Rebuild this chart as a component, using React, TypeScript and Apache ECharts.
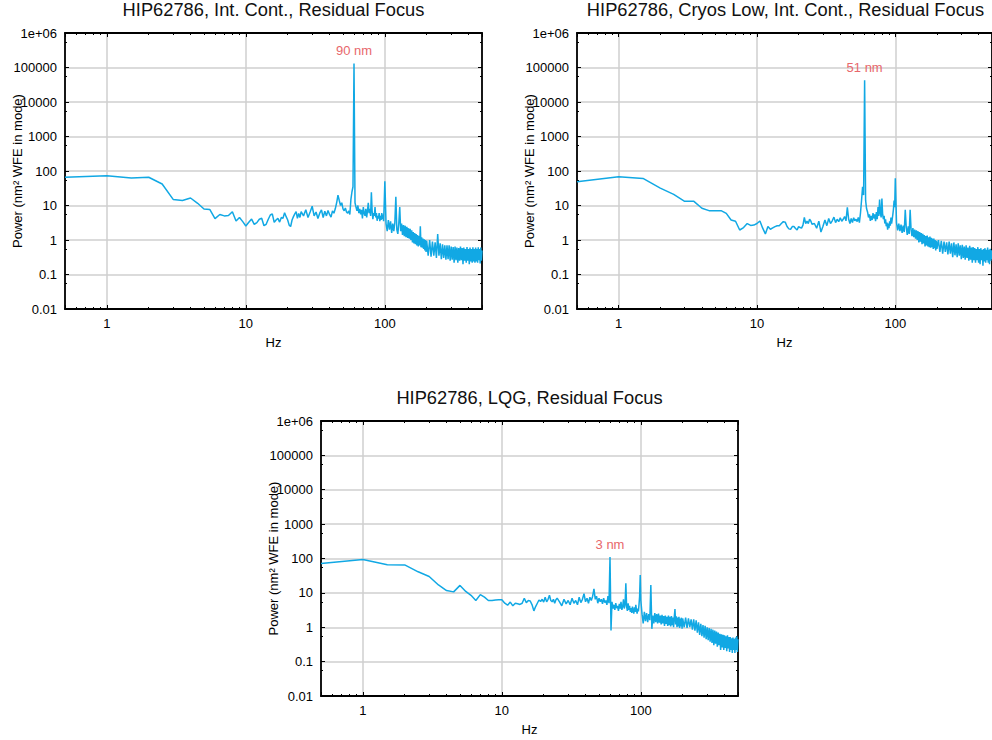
import React, { useEffect, useRef } from "react";
import * as echarts from "echarts";

// Shared frequency grid (Hz)
const FREQS = [
  0.5, 1, 1.5, 2, 2.5, 3, 3.5, 4, 4.5, 5, 5.5, 6, 6.5, 7, 7.5, 8, 8.5, 9, 9.5, 10,
  10.5, 11, 11.5, 12, 12.5, 13, 13.5, 14, 14.5, 15, 15.5, 16, 16.5, 17, 17.5, 18, 18.5, 19, 19.5, 20,
  20.5, 21, 21.5, 22, 22.5, 23, 23.5, 24, 24.5, 25,
  26, 27, 28, 29, 30, 31, 32, 33, 34, 35, 36, 37, 38, 39, 40, 41, 42, 43, 44, 45,
  46, 47, 48, 49, 50, 51, 52, 53, 54, 55, 56, 57, 58, 59, 60, 61, 62, 63, 64, 65,
  66, 67, 68, 69, 70, 71, 72, 73, 74, 75, 76, 77, 78, 79, 80, 81, 82, 83, 84, 85,
  86, 87, 88, 89, 90, 91, 92, 93, 94, 95, 96, 97, 98, 99, 100,
  102, 104, 106, 108, 110, 112, 114, 116, 118, 120, 122, 124, 126, 128, 130, 132, 134, 136, 138, 140,
  142, 144, 146, 148, 150, 152, 154, 156, 158, 160, 162, 164, 166, 168, 170, 172, 174, 176, 178, 180,
  182, 184, 186, 188, 190, 192, 194, 196, 198, 200,
  205, 210, 215, 220, 225, 230, 235, 240, 245, 250, 255, 260, 265, 270, 275, 280, 285, 290, 295, 300,
  305, 310, 315, 320, 325, 330, 335, 340, 345, 350, 355, 360, 365, 370, 375, 380, 385, 390, 395, 400,
  405, 410, 415, 420, 425, 430, 435, 440, 445, 450, 455, 460, 465, 470, 475, 480, 485, 490, 495, 500,
];

// HIP62786, Int. Cont., Residual Focus
const POWER_INT_CONT = [
  66, 73, 63, 66, 42, 15, 14, 16.5, 11.6, 7.9, 7.7, 4.15, 5.5, 5.0, 5.1, 6.6, 3.55, 4.5, 3.4, 2.55,
  3.25, 4.05, 2.85, 3.2, 4.0, 4.25, 2.6, 2.85, 4.0, 5.3, 5.7, 3.25, 3.8, 4.25, 3.3, 4.5, 4.25, 6.2, 4.75, 3.8,
  2.7, 2.45, 3.8, 4.75, 5.7, 6.6, 4.25, 5.9, 4.5, 6.6,
  5.0, 7.5, 4.5, 6.5, 9.5, 5.0, 6.5, 4.2, 6.0, 7.5, 4.5, 6.8, 5.0, 7.2, 5.5, 4.6, 7.0, 6.0, 8.0, 12,
  20, 14, 10, 12, 8.0, 7.0, 8.5, 6.5, 6.0, 7.0, 5.5, 15, 25, 35, 130000, 12, 9.0, 7.0, 10, 6.0,
  8.0, 5.5, 7.5, 4.2, 9.0, 6.0, 5.0, 8.0, 4.5, 7.0, 12, 6.0, 8.0, 5.0, 24, 7.0, 4.0, 6.0, 5.0, 9.0,
  4.5, 6.0, 3.6, 5.0, 4.2, 6.0, 3.5, 5.0, 3.8, 6.0, 4.0, 5.5, 3.5, 12, 50,
  3.0, 1.8, 3.8, 2.0, 3.5, 1.6, 3.0, 1.8, 3.2, 18, 2.0, 1.5, 3.0, 9.0, 1.8, 3.0, 1.4, 2.7, 1.3, 2.6,
  1.2, 2.4, 1.15, 2.2, 1.1, 2.1, 1.0, 1.9, 0.85, 1.7, 0.8, 1.6, 0.75, 1.5, 0.7, 1.4, 0.65, 1.3, 0.7, 2.5,
  0.62, 1.2, 0.6, 1.1, 0.55, 1.05, 0.5, 1.0, 0.45, 0.95,
  0.35, 1.0, 0.33, 0.9, 0.35, 0.85, 0.3, 1.5, 0.35, 0.8, 0.28, 0.75, 0.3, 0.7, 0.27, 0.7, 0.28, 0.7, 0.25, 0.65,
  0.27, 0.62, 0.22, 0.65, 0.26, 0.6, 0.22, 0.58, 0.25, 0.65, 0.26, 0.58, 0.2, 0.6, 0.25, 0.55, 0.22, 0.62, 0.25, 0.55,
  0.2, 0.6, 0.24, 0.55, 0.22, 0.62, 0.24, 0.55, 0.22, 0.6, 0.24, 0.55, 0.22, 0.62, 0.26, 0.55, 0.21, 0.6, 0.25, 0.5,
];

// HIP62786, Cryos Low, Int. Cont., Residual Focus
const POWER_CRYOS_LOW = [
  49, 68, 61, 32, 21, 13.2, 13.2, 8.3, 7.1, 7.1, 7.1, 5.9, 3.8, 3.5, 1.95, 2.3, 3.0, 2.65, 2.7, 3.0,
  3.55, 2.2, 1.5, 2.45, 2.05, 2.25, 2.45, 2.6, 2.6, 3.0, 3.4, 3.3, 2.45, 2.1, 2.05, 2.45, 2.45, 2.15, 1.95, 2.45,
  2.3, 2.2, 2.7, 4.5, 3.0, 3.55, 3.0, 4.0, 3.55, 2.85,
  3.0, 2.2, 3.5, 1.7, 2.5, 3.8, 2.6, 4.2, 3.0, 3.6, 4.6, 3.2, 4.0, 3.4, 4.4, 3.5, 4.0, 4.8, 3.6, 8.8,
  4.0, 3.0, 4.2, 3.2, 4.4, 3.6, 4.0, 3.4, 4.5, 3.2, 6.0, 14, 35, 20, 43000, 14, 8.0, 6.5, 4.5, 5.5,
  3.6, 5.0, 3.8, 6.0, 4.2, 5.5, 3.5, 6.5, 4.0, 9.0, 5.0, 15, 6.0, 4.5, 16, 5.5, 4.0, 5.0, 3.0, 4.0,
  2.5, 3.2, 2.0, 3.0, 2.2, 3.5, 2.6, 4.5, 3.0, 4.0, 5.5, 8.0, 14, 9.0, 62,
  3.2, 1.9, 3.0, 1.8, 2.8, 1.6, 2.6, 1.7, 7.5, 2.3, 1.4, 2.5, 1.5, 7.5, 2.0, 1.3, 2.2, 1.2, 2.0, 1.1,
  1.9, 1.0, 1.8, 0.85, 1.7, 0.9, 1.6, 0.75, 1.5, 0.8, 1.4, 0.65, 1.3, 0.7, 1.35, 0.65, 1.2, 0.62, 1.25, 0.6,
  1.15, 0.62, 1.1, 0.55, 1.1, 0.58, 1.0, 0.5, 0.95, 0.55,
  1.0, 0.45, 0.95, 0.4, 0.9, 0.45, 0.85, 0.38, 0.9, 0.4, 0.8, 0.32, 0.85, 0.36, 0.75, 0.32, 0.8, 0.35, 0.7, 0.28,
  0.72, 0.3, 0.65, 0.27, 0.7, 0.3, 0.6, 0.25, 0.68, 0.27, 0.6, 0.22, 0.62, 0.26, 0.58, 0.22, 0.55, 0.26, 0.62, 0.22,
  0.55, 0.2, 0.58, 0.26, 0.52, 0.18, 0.55, 0.24, 0.58, 0.22, 0.52, 0.26, 0.6, 0.22, 0.52, 0.2, 0.56, 0.25, 0.5, 0.28,
];

// HIP62786, LQG, Residual Focus
const POWER_LQG = [
  71, 93, 66, 65, 41, 30, 17, 11.7, 10.7, 16.5, 11, 8.5, 6.0, 8.9, 7.5, 6.0, 6.0, 6.2, 6.3, 6.3,
  5.0, 4.4, 5.4, 4.2, 5.0, 4.8, 4.6, 5.0, 7.0, 5.2, 6.0, 5.8, 4.5, 3.0, 4.0, 5.0, 6.2, 5.6, 6.5, 5.4,
  7.5, 5.5, 6.5, 8.5, 6.0, 5.5, 6.5, 5.0, 6.3, 7.0,
  5.5, 4.2, 6.5, 4.8, 6.0, 4.5, 7.0, 5.0, 6.0, 4.5, 7.5, 5.2, 6.5, 9.5, 5.5, 7.0, 5.0, 7.5, 6.0, 8.0,
  13, 6.5, 8.0, 5.0, 7.0, 5.5, 6.5, 4.8, 7.0, 5.2, 6.0, 4.5, 8.0, 5.0, 110, 0.8, 5.5, 3.5, 4.5, 3.2,
  5.0, 3.6, 4.2, 3.0, 4.8, 3.5, 5.5, 3.2, 4.0, 6.5, 3.5, 4.5, 19, 4.0, 3.0, 5.0, 3.2, 4.2, 2.8, 3.6,
  2.6, 4.0, 3.0, 2.5, 3.8, 2.8, 4.5, 3.2, 2.5, 3.5, 2.9, 4.5, 8.0, 33, 6.0,
  2.4, 1.3, 2.8, 1.5, 2.6, 1.4, 2.4, 1.6, 17, 0.9, 2.2, 1.3, 2.6, 1.4, 2.4, 1.3, 2.5, 1.35, 2.2, 1.2,
  2.3, 1.3, 2.1, 1.1, 2.2, 1.25, 2.0, 1.1, 2.2, 1.15, 2.0, 1.05, 2.1, 1.15, 1.9, 1.0, 2.0, 3.4, 1.2, 2.1,
  1.0, 1.9, 1.05, 2.0, 0.95, 1.8, 1.05, 1.9, 0.9, 1.8,
  1.0, 1.9, 0.95, 1.8, 1.0, 1.7, 0.85, 1.7, 0.8, 1.6, 0.7, 1.4, 0.6, 1.25, 0.55, 1.15, 0.5, 1.1, 0.45, 1.0,
  0.42, 0.95, 0.38, 0.9, 0.35, 0.85, 0.3, 0.8, 0.33, 0.75, 0.27, 0.7, 0.3, 0.65, 0.22, 0.62, 0.26, 0.6, 0.22, 0.58,
  0.25, 0.55, 0.2, 0.58, 0.24, 0.52, 0.19, 0.52, 0.22, 0.48, 0.18, 0.5, 0.22, 0.46, 0.18, 0.5, 0.22, 0.55, 0.19, 0.45,
];

const TITLES = [
  "HIP62786, Int. Cont., Residual Focus",
  "HIP62786, Cryos Low, Int. Cont., Residual Focus",
  "HIP62786, LQG, Residual Focus",
];
const PEAK_LABELS = ["90 nm", "51 nm", "3 nm"];
const PEAK_FREQ = 60;
const X_NAME = "Hz";
const Y_NAME = "Power (nm\u00B2 WFE in mode)";
const Y_TICK_LABELS = ["0.01", "0.1", "1", "10", "100", "1000", "10000", "100000", "1e+06"];
const X_TICK_LABELS = ["1", "10", "100"];

const FONT = "'Liberation Sans', Arial, Helvetica, sans-serif";
const LINE_COLOR = "#11a8e4";
const PEAK_COLOR = "#e8676b";

const PANELS = [
  { left: 65, top: 33, width: 417, height: 276 },
  { left: 577, top: 33, width: 417, height: 276 },
  { left: 321, top: 421, width: 417, height: 275 },
];

function isDecade(v: number) {
  const l = Math.log10(v);
  return Math.abs(l - Math.round(l)) < 1e-6;
}

export default function App() {
  const ref = useRef<HTMLDivElement>(null);

  useEffect(() => {
    if (!ref.current) return;
    const chart = echarts.init(ref.current, undefined, { renderer: "svg" });
    const seriesData = [POWER_INT_CONT, POWER_CRYOS_LOW, POWER_LQG];

    const xLabel = (v: number) => {
      if (!isDecade(v)) return "";
      const idx = Math.round(Math.log10(v));
      return X_TICK_LABELS[idx] ?? "";
    };
    const yLabel = (v: number) => {
      if (!isDecade(v)) return "";
      const idx = Math.round(Math.log10(v)) + 2;
      return Y_TICK_LABELS[idx] ?? "";
    };

    const grid: any[] = [];
    const xAxis: any[] = [];
    const yAxis: any[] = [];
    const series: any[] = [];
    const graphic: any[] = [];

    PANELS.forEach((p, k) => {
      grid.push({ left: p.left, top: p.top, width: p.width, height: p.height, containLabel: false });
      const lineStyle = { color: "#000", width: 1.8 };
      const tickStyle = { color: "#000", width: 1 };
      xAxis.push({
        type: "log",
        logBase: 10,
        gridIndex: k,
        min: 0.5,
        max: 500,
        position: "bottom",
        axisLine: { show: true, onZero: false, lineStyle },
        axisTick: { show: true, inside: true, length: 4, lineStyle: tickStyle },
        minorTick: { show: true, splitNumber: 9, length: 2, lineStyle: tickStyle },
        axisLabel: {
          formatter: xLabel,
          fontSize: 13,
          color: "#000",
          fontFamily: FONT,
          margin: 8,
          showMinLabel: false,
          showMaxLabel: false,
        },
        splitLine: { show: true, lineStyle: { color: "#cfcfcf", width: 1.5 } },
        minorSplitLine: { show: false },
        name: X_NAME,
        nameLocation: "middle",
        nameGap: 27,
        nameMoveOverlap: false,
        nameTextStyle: { fontSize: 13, color: "#000", fontFamily: FONT },
      });
      xAxis.push({
        type: "log",
        logBase: 10,
        gridIndex: k,
        min: 0.5,
        max: 500,
        position: "top",
        axisLine: { show: true, onZero: false, lineStyle },
        axisTick: { show: true, inside: true, length: 4, lineStyle: tickStyle },
        minorTick: { show: true, splitNumber: 9, length: 2, lineStyle: tickStyle },
        axisLabel: { show: false },
        splitLine: { show: false },
      });
      yAxis.push({
        type: "log",
        logBase: 10,
        gridIndex: k,
        min: 0.01,
        max: 1e6,
        position: "left",
        axisLine: { show: true, onZero: false, lineStyle },
        axisTick: { show: true, inside: true, length: 4, lineStyle: tickStyle },
        minorTick: { show: true, splitNumber: 2, length: 2, lineStyle: tickStyle },
        axisLabel: {
          formatter: yLabel,
          fontSize: 13,
          color: "#000",
          fontFamily: FONT,
          margin: 8,
        },
        splitLine: { show: true, lineStyle: { color: "#cfcfcf", width: 1.5 } },
        name: Y_NAME,
        nameLocation: "middle",
        nameGap: 41,
        nameRotate: 90,
        nameMoveOverlap: false,
        nameTextStyle: { fontSize: 13, color: "#000", fontFamily: FONT },
      });
      yAxis.push({
        type: "log",
        logBase: 10,
        gridIndex: k,
        min: 0.01,
        max: 1e6,
        position: "right",
        axisLine: { show: true, onZero: false, lineStyle },
        axisTick: { show: true, inside: true, length: 4, lineStyle: tickStyle },
        minorTick: { show: true, splitNumber: 2, length: 2, lineStyle: tickStyle },
        axisLabel: { show: false },
        splitLine: { show: false },
      });

      const values = seriesData[k];
      const peakIdx = FREQS.indexOf(PEAK_FREQ);
      series.push({
        type: "line",
        xAxisIndex: 2 * k,
        yAxisIndex: 2 * k,
        data: FREQS.map((f, i) => [f, values[i]]),
        symbol: "none",
        showSymbol: false,
        lineStyle: { color: LINE_COLOR, width: 1.5 },
        itemStyle: { color: LINE_COLOR },
        clip: true,
        silent: true,
        markPoint: {
          symbol: "circle",
          symbolSize: 1,
          itemStyle: { color: "rgba(0,0,0,0)" },
          label: {
            show: true,
            position: "top",
            distance: 6,
            formatter: PEAK_LABELS[k],
            color: PEAK_COLOR,
            fontSize: 13,
            fontFamily: FONT,
          },
          data: [{ coord: [PEAK_FREQ, values[peakIdx]] }],
        },
      });

      graphic.push({
        type: "text",
        x: p.left + p.width / 2,
        y: p.top - 24,
        style: {
          text: TITLES[k],
          fontSize: 18.3,
          fontFamily: FONT,
          fill: "#111",
          align: "center",
          verticalAlign: "middle",
        },
      });
    });

    chart.setOption({
      animation: false,
      backgroundColor: "#fff",
      grid,
      xAxis,
      yAxis,
      series,
      graphic,
    });

    return () => {
      chart.dispose();
    };
  }, []);

  return (
    <div
      ref={ref}
      style={{ position: "absolute", left: 0, top: 0, width: 992, height: 740, background: "#fff" }}
    />
  );
}
